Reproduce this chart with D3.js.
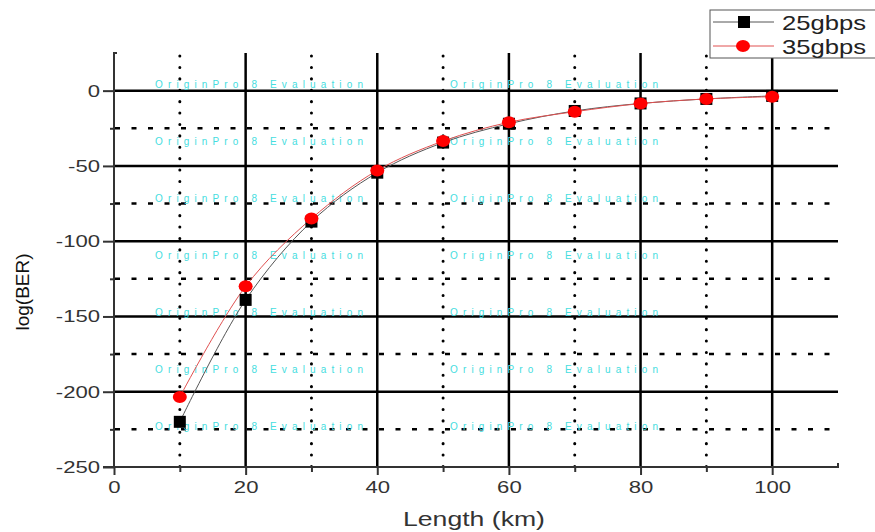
<!DOCTYPE html>
<html>
<head>
<meta charset="utf-8">
<script src="https://cdnjs.cloudflare.com/ajax/libs/d3/7.8.5/d3.min.js"></script>
<style>
  body { margin: 0; background: #fff; }
  svg text { font-family: "Liberation Sans", Arial, sans-serif; }
</style>
</head>
<body>
<div id="chart"></div>
<script>
// data
var lengths = [10, 20, 30, 40, 50, 60, 70, 80, 90, 100];
var ber25 = [-220, -139, -87, -54.5, -34.5, -22, -13.5, -8.5, -5.5, -3.5];
var ber35 = [-203.5, -130, -85, -53, -33.5, -21, -14, -8.6, -5.5, -4];
var xTicks = [0, 20, 40, 60, 80, 100];
var xMinor = [10, 30, 50, 70, 90];
var yTicks = [0, -50, -100, -150, -200, -250];
var yMinor = [-25, -75, -125, -175, -225];
var seriesNames = ['25gbps', '35gbps'];
var watermark = 'OriginPro 8 Evaluation';

var width = 875, height = 532;
var mLeft = 114, mRight = 838, mTop = 53, mBottom = 467;

// the source picture is stretched sideways, so widen the glyphs a bit
function stretch(sel, k) {
  sel.each(function() {
    var w = this.getComputedTextLength();
    d3.select(this).attr('textLength', w * k).attr('lengthAdjust', 'spacingAndGlyphs');
  });
}

var svg = d3.select('#chart').append('svg')
  .attr('width', width)
  .attr('height', height);

var x = d3.scaleLinear().domain([0, 110]).range([mLeft, mRight]);
var y = d3.scaleLinear().domain([-250, 25]).range([mBottom, mTop]);

// grid
var grid = svg.append('g');
grid.selectAll('.vmaj').data(xTicks.slice(1)).enter().append('line')
  .attr('x1', function(d) { return x(d); }).attr('x2', function(d) { return x(d); })
  .attr('y1', mTop).attr('y2', mBottom)
  .attr('stroke', '#000').attr('stroke-width', 2.5);
grid.selectAll('.vmin').data(xMinor).enter().append('line')
  .attr('x1', function(d) { return x(d); }).attr('x2', function(d) { return x(d); })
  .attr('y1', mTop + 3).attr('y2', mBottom)
  .attr('stroke', '#000').attr('stroke-width', 3)
  .attr('stroke-linecap', 'round')
  .attr('stroke-dasharray', '0.1 11.3');
grid.selectAll('.hmaj').data(yTicks.slice(0, -1)).enter().append('line')
  .attr('x1', mLeft).attr('x2', mRight)
  .attr('y1', function(d) { return y(d); }).attr('y2', function(d) { return y(d); })
  .attr('stroke', '#000').attr('stroke-width', 2.5);
grid.selectAll('.hmin').data(yMinor).enter().append('line')
  .attr('x1', mLeft + 1).attr('x2', mRight - 8)
  .attr('y1', function(d) { return y(d); }).attr('y2', function(d) { return y(d); })
  .attr('stroke', '#000').attr('stroke-width', 2.5)
  .attr('stroke-dasharray', '5 11.5');

// watermark
var wm = svg.append('g');
[0, -37.8, -75.6, -113.4, -151.2, -189, -226.8].forEach(function(v) {
  [155, 450].forEach(function(px) {
    wm.append('text')
      .attr('x', px).attr('y', y(v + 1.5))
      .attr('fill', '#45dde0')
      .attr('font-size', 10)
      .attr('textLength', 208)
      .attr('lengthAdjust', 'spacing')
      .text(watermark);
  });
});

// axes
var yAxis = d3.axisLeft(y).tickValues(yTicks).tickSize(11).tickPadding(3)
  .tickFormat(function(d) { return String(d); });
var gy = svg.append('g').attr('transform', 'translate(' + mLeft + ',0)').call(yAxis);
gy.attr('font-size', null).attr('font-family', null);
gy.select('.domain').attr('stroke', '#333').attr('stroke-width', 2).attr('d', 'M3,' + mTop + 'H0V' + mBottom);
gy.selectAll('.tick line').attr('stroke', '#333').attr('stroke-width', 2);
gy.selectAll('.tick text').attr('font-size', 17).attr('fill', '#333').call(stretch, 1.3);
svg.append('g').attr('transform', 'translate(' + mLeft + ',0)')
  .call(d3.axisLeft(y).tickValues(yMinor).tickSize(4).tickFormat(''))
  .call(function(g) { g.select('.domain').remove(); g.selectAll('line').attr('stroke', '#333').attr('stroke-width', 2); });

var xAxis = d3.axisBottom(x).tickValues(xTicks).tickSize(8).tickPadding(6);
var gx = svg.append('g').attr('transform', 'translate(0,' + mBottom + ')').call(xAxis);
gx.attr('font-size', null).attr('font-family', null);
gx.select('.domain').attr('stroke', '#333').attr('stroke-width', 2).attr('d', 'M' + (mLeft - 11) + ',0H' + mRight + 'V-4');
gx.selectAll('.tick line').attr('stroke', '#333').attr('stroke-width', 2);
gx.selectAll('.tick text').attr('font-size', 17).attr('fill', '#333').call(stretch, 1.3);
svg.append('g').attr('transform', 'translate(0,' + mBottom + ')')
  .call(d3.axisBottom(x).tickValues(xMinor).tickSize(5).tickFormat(''))
  .call(function(g) { g.select('.domain').remove(); g.selectAll('line').attr('stroke', '#333').attr('stroke-width', 2); });

svg.append('text')
  .attr('x', 474).attr('y', 526)
  .attr('text-anchor', 'middle').attr('font-size', 20).attr('fill', '#333')
  .text('Length (km)')
  .call(stretch, 1.33);
svg.append('text')
  .attr('transform', 'translate(29,292) rotate(-90)')
  .attr('text-anchor', 'middle').attr('font-size', 19).attr('fill', '#111')
  .text('log(BER)');

// series
var line = d3.line().curve(d3.curveCatmullRom)
  .x(function(d) { return x(d[0]); })
  .y(function(d) { return y(d[1]); });
var pts25 = d3.zip(lengths, ber25);
var pts35 = d3.zip(lengths, ber35);

svg.append('path').datum(pts25).attr('d', line)
  .attr('fill', 'none').attr('stroke', '#555').attr('stroke-width', 1);
svg.append('path').datum(pts35).attr('d', line)
  .attr('fill', 'none').attr('stroke', '#e05050').attr('stroke-width', 1);

svg.selectAll('.sq').data(pts25).enter().append('rect')
  .attr('x', function(d) { return x(d[0]) - 6; })
  .attr('y', function(d) { return y(d[1]) - 6; })
  .attr('width', 12).attr('height', 12).attr('fill', '#000');
svg.selectAll('.ci').data(pts35).enter().append('ellipse')
  .attr('cx', function(d) { return x(d[0]); })
  .attr('cy', function(d) { return y(d[1]); })
  .attr('rx', 7).attr('ry', 6).attr('fill', '#f00');

// legend
var lg = svg.append('g');
lg.append('rect').attr('x', 710).attr('y', 10).attr('width', 170).attr('height', 48)
  .attr('fill', '#fff').attr('stroke', '#555').attr('stroke-width', 1);
lg.append('line').attr('x1', 713).attr('x2', 774).attr('y1', 22).attr('y2', 22)
  .attr('stroke', '#555').attr('stroke-width', 1);
lg.append('rect').attr('x', 738).attr('y', 16).attr('width', 12).attr('height', 12).attr('fill', '#000');
lg.append('line').attr('x1', 713).attr('x2', 774).attr('y1', 46).attr('y2', 46)
  .attr('stroke', '#e05050').attr('stroke-width', 1);
lg.append('ellipse').attr('cx', 743).attr('cy', 46).attr('rx', 7).attr('ry', 6).attr('fill', '#f00');
seriesNames.forEach(function(n, i) {
  lg.append('text').attr('x', 782).attr('y', 30 + i * 24)
    .attr('font-size', 21).attr('fill', '#222').text(n)
    .call(stretch, 1.22);
});
</script>
</body>
</html>
